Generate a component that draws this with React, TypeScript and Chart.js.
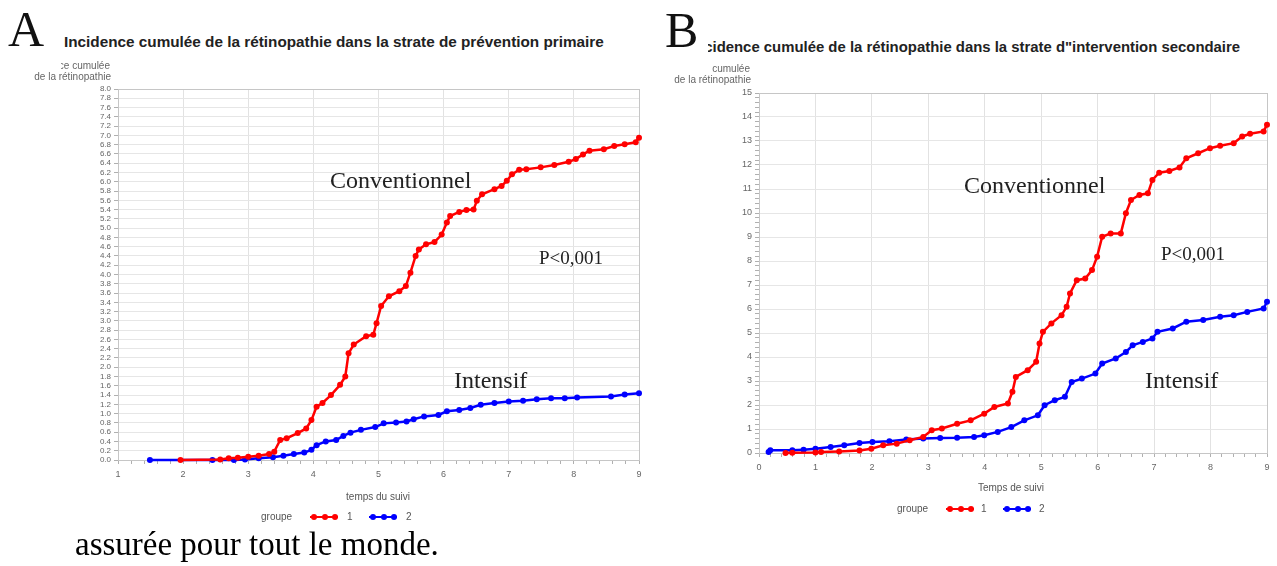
import React, { useEffect, useRef } from "react";
import { Chart, registerables } from "chart.js";

Chart.register(...registerables);

// ---------- Panel A : strate de prévention primaire ----------
const aConvX = [1.96, 2.57, 2.7, 2.84, 3.0, 3.16, 3.32, 3.4, 3.49, 3.59, 3.76, 3.89, 3.97, 4.05, 4.14, 4.27, 4.41, 4.49, 4.54, 4.62, 4.81, 4.92, 4.97, 5.04, 5.16, 5.32, 5.42, 5.49, 5.57, 5.62, 5.73, 5.86, 5.97, 6.05, 6.1, 6.24, 6.35, 6.46, 6.51, 6.59, 6.78, 6.89, 6.97, 7.05, 7.16, 7.27, 7.49, 7.7, 7.92, 8.03, 8.14, 8.24, 8.46, 8.62, 8.78, 8.95, 9.0];
const aConvY = [0, 0.01, 0.04, 0.05, 0.07, 0.09, 0.13, 0.18, 0.43, 0.47, 0.58, 0.68, 0.86, 1.15, 1.23, 1.4, 1.62, 1.8, 2.3, 2.49, 2.67, 2.7, 2.95, 3.32, 3.53, 3.64, 3.75, 4.04, 4.4, 4.54, 4.65, 4.7, 4.86, 5.12, 5.26, 5.35, 5.39, 5.4, 5.59, 5.73, 5.84, 5.91, 6.02, 6.16, 6.26, 6.27, 6.31, 6.36, 6.43, 6.49, 6.59, 6.67, 6.7, 6.77, 6.81, 6.85, 6.95];
const aIntX = [1.49, 2.45, 2.78, 2.95, 3.16, 3.38, 3.54, 3.7, 3.86, 3.97, 4.05, 4.19, 4.35, 4.46, 4.57, 4.73, 4.95, 5.08, 5.27, 5.43, 5.54, 5.7, 5.92, 6.05, 6.24, 6.41, 6.57, 6.78, 7.0, 7.22, 7.43, 7.65, 7.86, 8.05, 8.57, 8.78, 9.0];
const aIntY = [0, 0, 0, 0.01, 0.04, 0.06, 0.09, 0.13, 0.16, 0.22, 0.32, 0.4, 0.43, 0.52, 0.59, 0.65, 0.71, 0.79, 0.81, 0.83, 0.88, 0.94, 0.97, 1.05, 1.08, 1.12, 1.19, 1.23, 1.26, 1.28, 1.31, 1.33, 1.33, 1.35, 1.37, 1.41, 1.44];
const aXTicks = [1, 2, 3, 4, 5, 6, 7, 8, 9];
const aYMax = 8;
const aYStep = 0.2;

// ---------- Panel B : strate d'intervention secondaire ----------
const bConvX = [0.47, 0.59, 1.0, 1.1, 1.42, 1.78, 1.99, 2.2, 2.44, 2.67, 2.91, 3.06, 3.24, 3.51, 3.75, 3.99, 4.17, 4.41, 4.49, 4.55, 4.76, 4.91, 4.97, 5.03, 5.18, 5.36, 5.45, 5.51, 5.63, 5.78, 5.9, 5.99, 6.08, 6.23, 6.41, 6.5, 6.59, 6.74, 6.89, 6.97, 7.09, 7.27, 7.45, 7.57, 7.78, 7.99, 8.17, 8.41, 8.56, 8.7, 8.94, 9.0];
const bConvY = [0, 0.01, 0.02, 0.04, 0.06, 0.1, 0.18, 0.32, 0.39, 0.53, 0.67, 0.95, 1.02, 1.22, 1.36, 1.64, 1.92, 2.06, 2.55, 3.17, 3.45, 3.8, 4.56, 5.05, 5.4, 5.74, 6.09, 6.65, 7.2, 7.27, 7.62, 8.18, 9.01, 9.15, 9.15, 9.99, 10.54, 10.75, 10.82, 11.38, 11.68, 11.75, 11.9, 12.28, 12.49, 12.7, 12.8, 12.91, 13.19, 13.3, 13.4, 13.68];
const bIntX = [0.17, 0.2, 0.59, 0.79, 1.0, 1.27, 1.51, 1.78, 2.01, 2.31, 2.61, 2.91, 3.21, 3.51, 3.81, 3.99, 4.23, 4.47, 4.7, 4.94, 5.06, 5.24, 5.42, 5.54, 5.72, 5.96, 6.08, 6.32, 6.5, 6.62, 6.8, 6.97, 7.06, 7.33, 7.57, 7.87, 8.17, 8.41, 8.65, 8.94, 9.0];
const bIntY = [0.04, 0.11, 0.11, 0.14, 0.18, 0.25, 0.32, 0.42, 0.46, 0.49, 0.56, 0.6, 0.63, 0.64, 0.67, 0.74, 0.88, 1.08, 1.36, 1.57, 1.99, 2.2, 2.34, 2.96, 3.1, 3.31, 3.73, 3.94, 4.21, 4.49, 4.63, 4.77, 5.05, 5.19, 5.47, 5.54, 5.68, 5.74, 5.88, 6.02, 6.3];
const bXTicks = [0, 1, 2, 3, 4, 5, 6, 7, 8, 9];
const bYTicks = [0, 1, 2, 3, 4, 5, 6, 7, 8, 9, 10, 11, 12, 13, 14, 15];
const bYMax = 15;
const bYStep = 0.2;

const RED = "rgb(255,0,0)";
const BLUE = "rgb(0,0,255)";
const SANS = "'Liberation Sans', Arial, sans-serif";
const SERIF = "'Liberation Serif', 'Times New Roman', serif";

const isIn = (v: number, list: number[]) => list.some((t) => Math.abs(t - v) < 1e-6);

const framePlugin = {
  id: "frame",
  beforeDatasetsDraw(chart: any) {
    const { ctx, chartArea: a } = chart;
    ctx.save();
    ctx.strokeStyle = "#c6c6c6";
    ctx.lineWidth = 1;
    ctx.strokeRect(Math.round(a.left) + 0.5, Math.round(a.top) + 0.5, Math.round(a.right - a.left), Math.round(a.bottom - a.top));
    ctx.restore();
  },
};

type PanelCfg = {
  convX: number[];
  convY: number[];
  intX: number[];
  intY: number[];
  xMin: number;
  xMax: number;
  xTicks: number[];
  yMax: number;
  yStep: number;
  yTicks: number[] | null; // null => label every step
  yFont: number;
  yAxisWidth: number;
  xAxisHeight: number;
  padTop: number;
  padRight: number;
};

function series(xs: number[], ys: number[], color: string) {
  return {
    data: xs.map((x, i) => ({ x, y: ys[i] })),
    borderColor: color,
    backgroundColor: color,
    pointRadius: 3,
    pointBorderWidth: 0,
    borderWidth: 2.5,
    showLine: true,
    tension: 0,
    clip: 6,
  };
}

function buildConfig(p: PanelCfg): any {
  return {
    type: "scatter",
    data: {
      datasets: [series(p.convX, p.convY, RED), series(p.intX, p.intY, BLUE)],
    },
    options: {
      animation: false,
      responsive: false,
      events: [],
      layout: { padding: { left: 0, right: p.padRight, top: p.padTop, bottom: 0 } },
      plugins: { legend: { display: false }, tooltip: { enabled: false }, title: { display: false } },
      scales: {
        x: {
          type: "linear",
          min: p.xMin,
          max: p.xMax,
          afterFit: (s: any) => {
            s.height = p.xAxisHeight;
          },
          border: { color: "#b8b8b8" },
          grid: {
            color: (c: any) => (isIn(c.tick.value, p.xTicks) ? "#e2e2e2" : "rgba(0,0,0,0)"),
            tickColor: "#b0b0b0",
            tickLength: 4,
          },
          ticks: {
            stepSize: 0.2,
            autoSkip: false,
            maxRotation: 0,
            padding: 5,
            color: "#666",
            font: { family: SANS, size: 9 },
            callback: (v: any) => (isIn(Number(v), p.xTicks) ? String(Math.round(Number(v))) : ""),
          },
        },
        y: {
          type: "linear",
          min: 0,
          max: p.yMax,
          afterFit: (s: any) => {
            s.width = p.yAxisWidth;
          },
          border: { color: "#b8b8b8" },
          grid: {
            color: (c: any) => (p.yTicks === null || isIn(c.tick.value, p.yTicks) ? "#e6e6e6" : "rgba(0,0,0,0)"),
            tickColor: "#b0b0b0",
            tickLength: 4,
          },
          ticks: {
            stepSize: p.yStep,
            autoSkip: false,
            padding: 3,
            color: "#666",
            font: { family: SANS, size: p.yFont },
            callback: (v: any) => {
              const n = Number(v);
              if (p.yTicks === null) return n.toFixed(1);
              return isIn(n, p.yTicks) ? String(Math.round(n)) : "";
            },
          },
        },
      },
    },
    plugins: [framePlugin],
  };
}

function Panel({ cfg, left, top, width, height }: { cfg: PanelCfg; left: number; top: number; width: number; height: number }) {
  const ref = useRef<HTMLCanvasElement | null>(null);
  useEffect(() => {
    if (!ref.current) return;
    const chart = new Chart(ref.current, buildConfig(cfg));
    return () => chart.destroy();
  }, []);
  return (
    <canvas
      ref={ref}
      width={width}
      height={height}
      style={{ position: "absolute", left, top, width, height }}
    />
  );
}

function Txt({ x, y, size, children, family = SANS, color = "#222", weight = 400, align = "left" }: any) {
  const style: any = {
    position: "absolute",
    top: y,
    fontFamily: family,
    fontSize: size,
    fontWeight: weight,
    color,
    lineHeight: 1,
    whiteSpace: "nowrap",
    transform: align === "center" ? "translate(-50%, -50%)" : "translateY(-50%)",
    left: x,
  };
  return <div style={style}>{children}</div>;
}

// Text clipped by a box; anchored either at its left (with offset) or at the box's right edge.
function Clip({ left, width, y, size, text, align = "left", offset = 0, weight = 400, color = "#666" }: any) {
  const spanStyle: any = { position: "absolute", top: 0, whiteSpace: "nowrap" };
  if (align === "right") spanStyle.right = 0;
  else spanStyle.left = offset;
  return (
    <div
      style={{
        position: "absolute",
        left,
        width,
        top: y - size / 2 - 2,
        height: size + 4,
        overflow: "hidden",
        fontFamily: SANS,
        fontSize: size,
        fontWeight: weight,
        lineHeight: `${size + 4}px`,
        color,
      }}
    >
      <span style={spanStyle}>{text}</span>
    </div>
  );
}

function Swatch({ x, y, color }: { x: number; y: number; color: string }) {
  return (
    <div style={{ position: "absolute", left: x, top: y - 4, width: 28, height: 8 }}>
      <div style={{ position: "absolute", left: 0, right: 0, top: 3.25, height: 1.5, background: color }} />
      {[0, 1, 2].map((i) => (
        <div
          key={i}
          style={{ position: "absolute", left: 1 + i * 10.5, top: 1, width: 6, height: 6, borderRadius: 3, background: color }}
        />
      ))}
    </div>
  );
}

const panelA: PanelCfg = {
  convX: aConvX,
  convY: aConvY,
  intX: aIntX,
  intY: aIntY,
  xMin: 1,
  xMax: 9,
  xTicks: aXTicks,
  yMax: aYMax,
  yStep: aYStep,
  yTicks: null,
  yFont: 8,
  yAxisWidth: 118,
  xAxisHeight: 40,
  padTop: 29,
  padRight: 11,
};

const panelB: PanelCfg = {
  convX: bConvX,
  convY: bConvY,
  intX: bIntX,
  intY: bIntY,
  xMin: 0,
  xMax: 9,
  xTicks: bXTicks,
  yMax: bYMax,
  yStep: bYStep,
  yTicks: bYTicks,
  yFont: 9,
  yAxisWidth: 99,
  xAxisHeight: 47,
  padTop: 33,
  padRight: 10,
};

export default function App() {
  return (
    <div style={{ position: "absolute", left: 0, top: 0, width: 1277, height: 566, overflow: "hidden", background: "#fff" }}>
      <Panel cfg={panelA} left={0} top={60} width={650} height={440} />
      <Panel cfg={panelB} left={660} top={60} width={617} height={440} />

      {/* panel letters */}
      <Txt x={8} y={29} size={50} family={SERIF} color="#111">A</Txt>
      <Txt x={665} y={30} size={50} family={SERIF} color="#111">B</Txt>

      {/* titles */}
      <Txt x={64} y={42} size={15.3} weight={700} color="#222">
        Incidence cumulée de la rétinopathie dans la strate de prévention primaire
      </Txt>
      <Clip left={708} width={560} y={47} size={14.9} weight={700} color="#222" offset={-17} text={'Incidence cumulée de la rétinopathie dans la strate d"intervention secondaire'} />

      {/* y axis labels */}
      <Clip left={61} width={49} y={66} size={10} align="right" text="Incidence cumulée" />
      <Clip left={30} width={81} y={77} size={10} align="right" text="de la rétinopathie" />
      <Clip left={711} width={39} y={69} size={10} align="right" text="Incidence cumulée" />
      <Clip left={660} width={91} y={80} size={10} align="right" text="de la rétinopathie" />

      {/* x axis titles */}
      <Txt x={378} y={497} size={10} align="center" color="#555">temps du suivi</Txt>
      <Txt x={1011} y={488} size={10} align="center" color="#555">Temps de suivi</Txt>

      {/* legends */}
      <Txt x={261} y={517} size={10} color="#555">groupe</Txt>
      <Swatch x={310} y={517} color={RED} />
      <Txt x={347} y={517} size={10} color="#555">1</Txt>
      <Swatch x={369} y={517} color={BLUE} />
      <Txt x={406} y={517} size={10} color="#555">2</Txt>

      <Txt x={897} y={509} size={10} color="#555">groupe</Txt>
      <Swatch x={946} y={509} color={RED} />
      <Txt x={981} y={509} size={10} color="#555">1</Txt>
      <Swatch x={1003} y={509} color={BLUE} />
      <Txt x={1039} y={509} size={10} color="#555">2</Txt>

      {/* in-plot annotations */}
      <Txt x={330} y={180} size={24} family={SERIF} color="#222">Conventionnel</Txt>
      <Txt x={454} y={380} size={24} family={SERIF} color="#222">Intensif</Txt>
      <Txt x={539} y={257} size={19} family={SERIF} color="#222">P&lt;0,001</Txt>

      <Txt x={964} y={185} size={24} family={SERIF} color="#222">Conventionnel</Txt>
      <Txt x={1145} y={380} size={24} family={SERIF} color="#222">Intensif</Txt>
      <Txt x={1161} y={253} size={19} family={SERIF} color="#222">P&lt;0,001</Txt>

      {/* text below the figure */}
      <Txt x={75} y={544} size={33} family={SERIF} color="#000">assurée pour tout le monde.</Txt>
    </div>
  );
}
